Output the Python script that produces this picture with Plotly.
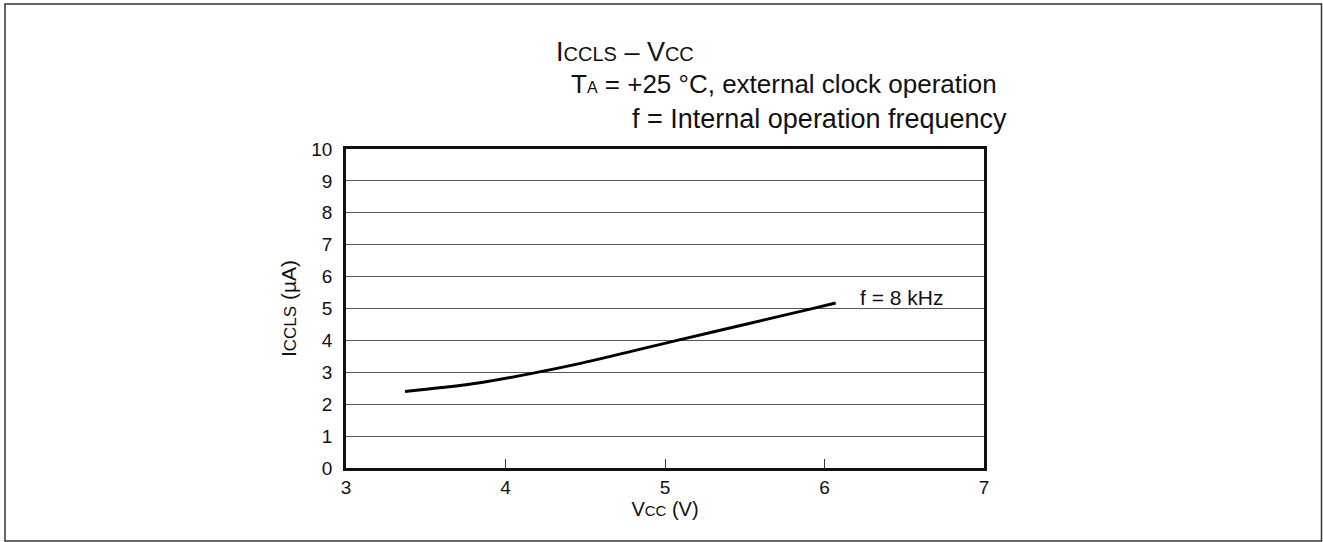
import plotly.graph_objects as go

# ICCLS vs VCC, f = 8 kHz, TA = +25 °C
vcc = [3.37, 3.6, 3.85, 4.15, 4.47, 4.75, 5.05, 5.5, 5.91, 6.07]
iccls = [2.40, 2.52, 2.68, 2.95, 3.28, 3.61, 3.97, 4.50, 4.98, 5.17]

x_ticks = [3, 4, 5, 6, 7]
y_ticks = list(range(0, 11))

FONT = "Arial, 'Liberation Sans', Helvetica, sans-serif"
INK = "#111"

W, H = 1323, 542
ML, MR, MT, MB = 346, 339, 149, 74
PW, PH = W - ML - MR, H - MT - MB


def px(xp):
    return (xp - ML) / PW


def py(yp):
    return (H - MB - yp) / PH


fig = go.Figure()
fig.add_trace(go.Scatter(
    x=vcc, y=iccls, mode="lines",
    line=dict(color="black", width=3, shape="spline", smoothing=1.0),
    hoverinfo="skip", showlegend=False,
))

fig.update_layout(
    width=W, height=H,
    margin=dict(l=ML, r=MR, t=MT, b=MB),
    paper_bgcolor="white", plot_bgcolor="white",
    font=dict(family=FONT, color=INK, size=19),
    showlegend=False,
    xaxis=dict(
        range=[3, 7], tickvals=x_ticks, ticktext=[str(v) for v in x_ticks],
        showgrid=False, zeroline=False,
        showline=True, linecolor="#111", linewidth=2.5, mirror=True,
        ticks="inside", ticklen=9, tickwidth=1, tickcolor="#333",
        tickfont=dict(size=19),
        title=dict(text="V<span style='font-size:15px'>CC</span> (V)",
                   font=dict(size=20), standoff=0),
        fixedrange=True,
    ),
    yaxis=dict(
        range=[0, 10], tickvals=y_ticks, ticktext=[str(v) for v in y_ticks],
        showgrid=True, gridcolor="#555", gridwidth=1, zeroline=False,
        showline=True, linecolor="#111", linewidth=2.5, mirror=True,
        ticks="", tickfont=dict(size=19), ticklabelstandoff=7,
        title=dict(text="I<span style='font-size:17px'>CCLS</span> (µA)",
                   font=dict(size=21), standoff=9),
        fixedrange=True,
    ),
)

# curve label
fig.add_annotation(
    x=6.21, y=5.36, xref="x", yref="y", xanchor="left", yanchor="middle",
    text="f = 8 kHz", showarrow=False, font=dict(size=21, color=INK),
)

# heading lines
fig.add_annotation(
    x=px(554), y=py(52), xref="paper", yref="paper",
    xanchor="left", yanchor="middle", showarrow=False,
    text="I<span style='font-size:20px'>CCLS</span> – V<span style='font-size:20px'>CC</span>",
    font=dict(size=27, color=INK),
)
fig.add_annotation(
    x=px(999), y=py(84), xref="paper", yref="paper",
    xanchor="right", yanchor="middle", showarrow=False,
    text="T<span style='font-size:16px'>A</span> = +25 °C, external clock operation",
    font=dict(size=26, color=INK),
)
fig.add_annotation(
    x=px(1009), y=py(119), xref="paper", yref="paper",
    xanchor="right", yanchor="middle", showarrow=False,
    text="f = Internal operation frequency",
    font=dict(size=27, color=INK),
)

# outer frame
fig.add_shape(
    type="rect", xref="paper", yref="paper",
    x0=px(5), x1=px(1321.5), y0=py(541), y1=py(4),
    line=dict(color="#333", width=1.5), fillcolor="rgba(0,0,0,0)",
)

fig.write_html("out.html", config={"displayModeBar": False})
